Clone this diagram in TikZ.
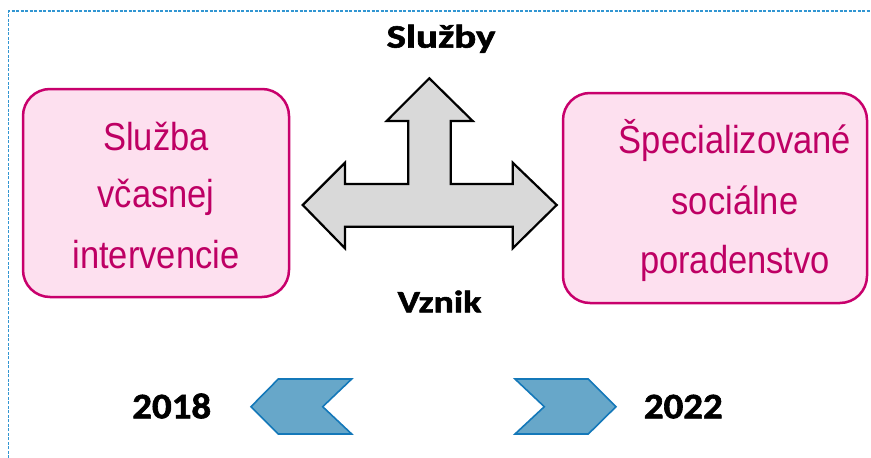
\documentclass[tikz,border=0pt]{standalone}
\usepackage{fontspec}
\setmainfont{Liberation Sans}
\newfontfamily\carl{Carlito}[BoldFeatures={FakeBold=1.6}]
\usepackage{graphicx}
\definecolor{pinkfill}{RGB}{253,224,239}
\definecolor{pinkline}{RGB}{200,0,108}
\definecolor{pinktext}{RGB}{190,0,100}
\definecolor{framecol}{RGB}{50,150,210}
\definecolor{chevfill}{RGB}{103,167,201}
\definecolor{chevline}{RGB}{20,120,185}
\definecolor{crossfill}{RGB}{217,217,217}
\newcommand{\pk}[1]{\scalebox{0.885}[1]{#1}}
\newcommand{\bl}[2]{\scalebox{#1}[1]{#2}}
\begin{document}
\begin{tikzpicture}[x=1pt,y=-1pt,
  frame/.style={draw=framecol,line width=1.4pt,dash pattern=on 3pt off 1.5pt},
  pinkbox/.style={draw=pinkline,fill=pinkfill,line width=2.5pt,rounded corners=27pt,inner sep=0pt},
  pinklbl/.style={anchor=base,inner sep=0pt,text=pinktext,font=\fontsize{39}{39}\selectfont},
  boldlbl/.style={anchor=base,inner sep=0pt,text=black},
  crossarrow/.style={draw=black,fill=crossfill,line width=2.2pt,line join=miter},
  chevron/.style={draw=chevline,fill=chevfill,line width=1.6pt,line join=miter}]
\useasboundingbox (0,0) rectangle (871,458);
\draw[frame] (8.5,458) -- (8.5,11) -- (871,11);

% boxes
\node[pinkbox,minimum width=266pt,minimum height=208pt] (boxL) at (156,193) {};
\node[pinkbox,minimum width=304pt,minimum height=210pt] (boxR) at (715,198) {};

\node[pinklbl] (l1) at (156,150) {\pk{Služba}};
\node[pinklbl] (l2) at (156,207) {\pk{včasnej}};
\node[pinklbl] (l3) at (156,268) {\pk{intervencie}};

\node[pinklbl] (r1) at (735,153) {\pk{Špecializované}};
\node[pinklbl] (r2) at (735,214) {\pk{sociálne}};
\node[pinklbl] (r3) at (735,273) {\pk{poradenstvo}};

% cross arrow
\draw[crossarrow] (302.7,205) -- (345,162.7) -- (345,184) -- (408.3,184) -- (408.3,121)
  -- (386.7,121) -- (429.3,78.3) -- (472.7,121) -- (450.7,121) -- (450.7,184)
  -- (512.7,184) -- (512.7,162.7) -- (556.7,205) -- (512.7,248.3) -- (512.7,226.7)
  -- (345,226.7) -- (345,248.3) -- cycle;

\node[boldlbl,font=\carl\bfseries\fontsize{33}{33}\selectfont] (sluzby) at (441,47.7) {\bl{1.24}{Služby}};
\node[boldlbl,font=\carl\bfseries\fontsize{31}{31}\selectfont] (vznik) at (439.5,312.3) {\bl{1.22}{Vznik}};

% chevrons
\draw[chevron] (251,406.7) -- (278.3,379) -- (351.7,379) -- (322.7,406.7) -- (351.7,434) -- (278.3,434) -- cycle;
\draw[chevron] (515,379) -- (588.3,379) -- (616,406.7) -- (588.3,434) -- (515,434) -- (544.3,406.7) -- cycle;

\node[boldlbl,font=\carl\bfseries\fontsize{36}{36}\selectfont] (y1) at (171.7,418.3) {\bl{1.08}{2018}};
\node[boldlbl,font=\carl\bfseries\fontsize{36}{36}\selectfont] (y2) at (683.3,418.3) {\bl{1.08}{2022}};
\end{tikzpicture}
\end{document}
